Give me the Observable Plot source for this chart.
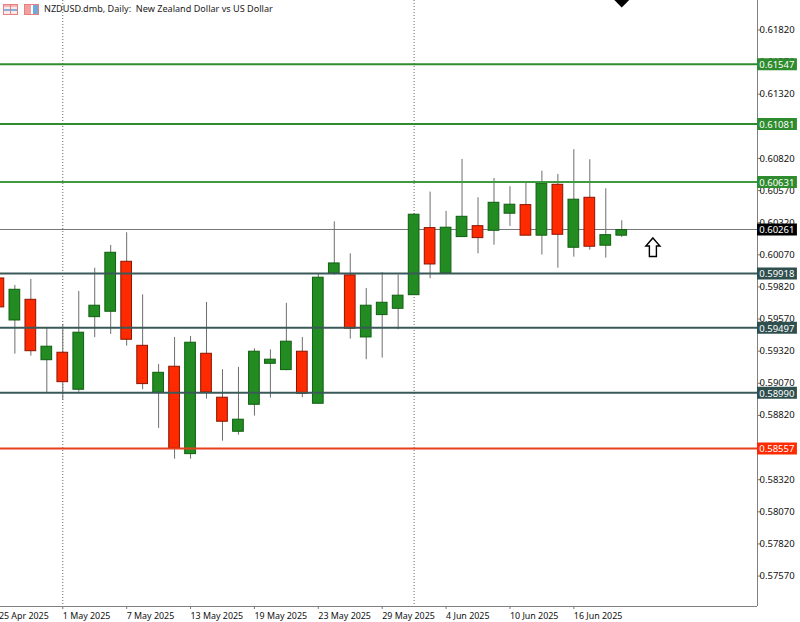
<!DOCTYPE html>
<html><head><meta charset="utf-8">
<script src="https://cdn.jsdelivr.net/npm/d3@7"></script>
<script src="https://cdn.jsdelivr.net/npm/@observablehq/plot@0.6"></script>
<style>
html,body{margin:0;padding:0;background:#fff;overflow:hidden}
#wrap{position:relative;width:800px;height:622px}
#title{position:absolute;left:44px;top:2px;font:9.1px "Noto Sans",sans-serif;color:#222;white-space:pre;line-height:14px}
.ic{position:absolute;top:4px;height:11px;box-sizing:border-box}
svg{display:block}
</style></head><body>
<div id="wrap"></div>
<script>
const titleText = "NZDUSD.dmb, Daily:  New Zealand Dollar vs US Dollar";
const dates = ["25 Apr","28 Apr","29 Apr","30 Apr","1 May","2 May","5 May","6 May","7 May","8 May","9 May","12 May","13 May","14 May","15 May","16 May","19 May","20 May","21 May","22 May","23 May","26 May","27 May","28 May","29 May","30 May","2 Jun","3 Jun","4 Jun","5 Jun","6 Jun","9 Jun","10 Jun","11 Jun","12 Jun","13 Jun","16 Jun","17 Jun","18 Jun","19 Jun"];
const open  = [.59886,.59559,.59720,.59250,.59308,.59020,.59585,.59627,.60016,.59362,.58997,.59199,.58519,.59300,.58958,.58693,.58903,.59222,.59173,.59316,.58911,.59927,.59910,.59427,.59601,.59650,.59756,.60278,.59925,.60208,.60293,.60257,.60390,.60457,.60219,.60615,.60125,.60514,.60141,.60219];
const high  = [.59925,.59832,.59878,.59505,.59528,.59785,.59966,.60143,.60242,.59759,.59217,.59427,.59435,.59699,.59176,.59194,.59339,.59331,.59692,.59427,.59917,.60327,.60078,.59808,.59931,.59912,.60390,.60558,.60408,.60812,.60514,.60664,.60600,.60636,.60721,.60696,.60888,.60810,.60584,.60335];
const low   = [.59598,.59297,.59282,.58999,.58937,.59001,.59425,.59450,.59359,.59020,.58719,.58480,.58480,.58947,.58620,.58667,.58815,.58955,.59168,.58958,.58911,.59912,.59414,.59254,.59266,.59487,.59756,.59884,.59925,.60208,.60078,.60145,.60291,.60219,.60068,.59966,.60052,.60106,.60044,.60205];
const close = [.59661,.59798,.59320,.59355,.59079,.59464,.59674,.60086,.59409,.59064,.59152,.58563,.59386,.58999,.58771,.58787,.59316,.59254,.59394,.58989,.59892,.60003,.59495,.59674,.59697,.59752,.60382,.59995,.60281,.60366,.60200,.60475,.60460,.60219,.60623,.60226,.60499,.60133,.60223,.60262];
const yTicks = [.6182,.6157,.6132,.6107,.6082,.6057,.6032,.6007,.5982,.5957,.5932,.5907,.5882,.5857,.5832,.5807,.5782,.5757];
const xTickIndex = [0,4,8,12,16,20,24,28,32,36];
const xTickDates = ["25 Apr 2025","1 May 2025","7 May 2025","13 May 2025","19 May 2025","23 May 2025","29 May 2025","4 Jun 2025","10 Jun 2025","16 Jun 2025"];
const periodSeparators = [4,26];
const levelPrices = [.61547,.61081,.60631,.59918,.59497,.58990,.58557];
const levelColors = ["#2e8b2e","#2e8b2e","#3f9a3f","#3a5a5a","#3a5a5a","#3a5a5a","#e8401c"];
const levelFills  = ["#2e8b2e","#2e8b2e","#2e8b2e","#2f4f4f","#2f4f4f","#2f4f4f","#ff2a00"];
const lastPrice = .60261;
const arrowIndex = 40.95, arrowPrice = .60121;
const markerIndex = 39, markerPrice = .62058;

const candles = dates.map((d,i)=>({i,d,o:open[i],h:high[i],l:low[i],c:close[i],up:close[i]>=open[i]}));
const levels = levelPrices.map((p,k)=>({p,line:levelColors[k],fill:levelFills[k],label:p.toFixed(5)}));
const font = '"Noto Sans",sans-serif';
const bw = 0.335, xDomainEnd = 47.5, xLabelEnd = 50;
const arrowSymbol = {draw(c,s){const k=Math.sqrt(s)/18;
  const p=[[0,-9.5],[7,-1.5],[3.5,-1.5],[3.5,9],[-3.5,9],[-3.5,-1.5],[-7,-1.5]];
  p.forEach(([a,b],n)=>n?c.lineTo(a*k,b*k):c.moveTo(a*k,b*k));c.closePath();}};

const chart = Plot.plot({
  width:800,height:622,marginLeft:0,marginRight:43,marginTop:0,marginBottom:16,
  style:{fontFamily:font,fontSize:"9.5px",background:"#fff",color:"#111"},
  x:{domain:[0.1,xDomainEnd],axis:null},
  y:{domain:[.57327,.62043],axis:null},
  marks:[
    Plot.axisY({anchor:"right",ticks:yTicks,tickFormat:d=>d.toFixed(5),tickSize:3,tickPadding:-1,label:null,stroke:"#777",fontVariant:"normal",dy:0.8}),
    Plot.axisX({anchor:"bottom",ticks:xTickIndex,tickFormat:i=>xTickDates[xTickIndex.indexOf(i)],tickSize:3,tickPadding:3,label:null,textAnchor:"start",stroke:"#777",fontVariant:"normal",fontSize:8.9}),
    Plot.ruleX(periodSeparators,{stroke:"#666",strokeWidth:1,strokeDasharray:"1,2"}),
    Plot.ruleY([lastPrice],{x1:0.1,x2:xDomainEnd,stroke:"#777",strokeWidth:1}),
    Plot.ruleX(candles,{x:"i",y1:"l",y2:"h",stroke:"#6e6e6e",strokeWidth:1,dy:0.8}),
    Plot.rect(candles,{x1:c=>c.i-bw,x2:c=>c.i+bw,y1:"o",y2:"c",fill:c=>c.up?"#228b22":"#ff2a00",stroke:c=>c.up?"#0f5f0f":"#8a1500",strokeWidth:1,dy:0.8}),
    Plot.ruleY(levels,{y:"p",x1:0.1,x2:xDomainEnd,stroke:"line",strokeWidth:2}),
    Plot.ruleX([xDomainEnd],{stroke:"#808080",strokeWidth:1}),
    Plot.ruleY([.57327],{x1:0.1,x2:xDomainEnd,stroke:"#808080",strokeWidth:1}),
    Plot.ruleY(levels,{y:"p",x1:xDomainEnd,x2:xLabelEnd,stroke:"fill",strokeWidth:12}),
    Plot.text(levels,{y:"p",x:xLabelEnd,dx:-3,dy:0.8,text:"label",textAnchor:"end",fill:"#fff",fontSize:9.5}),
    Plot.ruleY([lastPrice],{x1:xDomainEnd,x2:xLabelEnd,stroke:"#000",strokeWidth:12}),
    Plot.text([lastPrice],{y:d=>d,x:xLabelEnd,dx:-3,dy:0.8,text:d=>d.toFixed(5),textAnchor:"end",fill:"#fff",fontSize:9.5}),
    Plot.dot([arrowPrice],{x:arrowIndex,y:d=>d,symbol:arrowSymbol,r:10.2,fill:"#fff",stroke:"#000",strokeWidth:1.4}),
    Plot.dot([markerPrice],{x:markerIndex,y:d=>d,symbol:"diamond2",r:8,fill:"#000"})
  ]
});
const wrap=document.getElementById("wrap");
wrap.appendChild(chart);
const t=document.createElement("div");t.id="title";t.textContent=titleText;wrap.appendChild(t);
const icon=(l,w,bg)=>{const s=document.createElement("div");s.className="ic";s.style.left=l+"px";s.style.width=w+"px";s.style.background=bg;s.style.border="1.5px solid #e77f7f";wrap.appendChild(s);};
icon(3,15,"linear-gradient(90deg,transparent 45%,#e77f7f 45%,#e77f7f 55%,transparent 55%),linear-gradient(#f4b6b6,#f4b6b6) 0 0/100% 2px no-repeat,linear-gradient(#7fb2dc,#7fb2dc) 50% 50%/100% 2px no-repeat,#fdeaea");
icon(24,15,"linear-gradient(90deg,#f0a0a0 0 45%,#fff 45% 58%,#6fa9d8 58% 100%)");
</script>
</body></html>
